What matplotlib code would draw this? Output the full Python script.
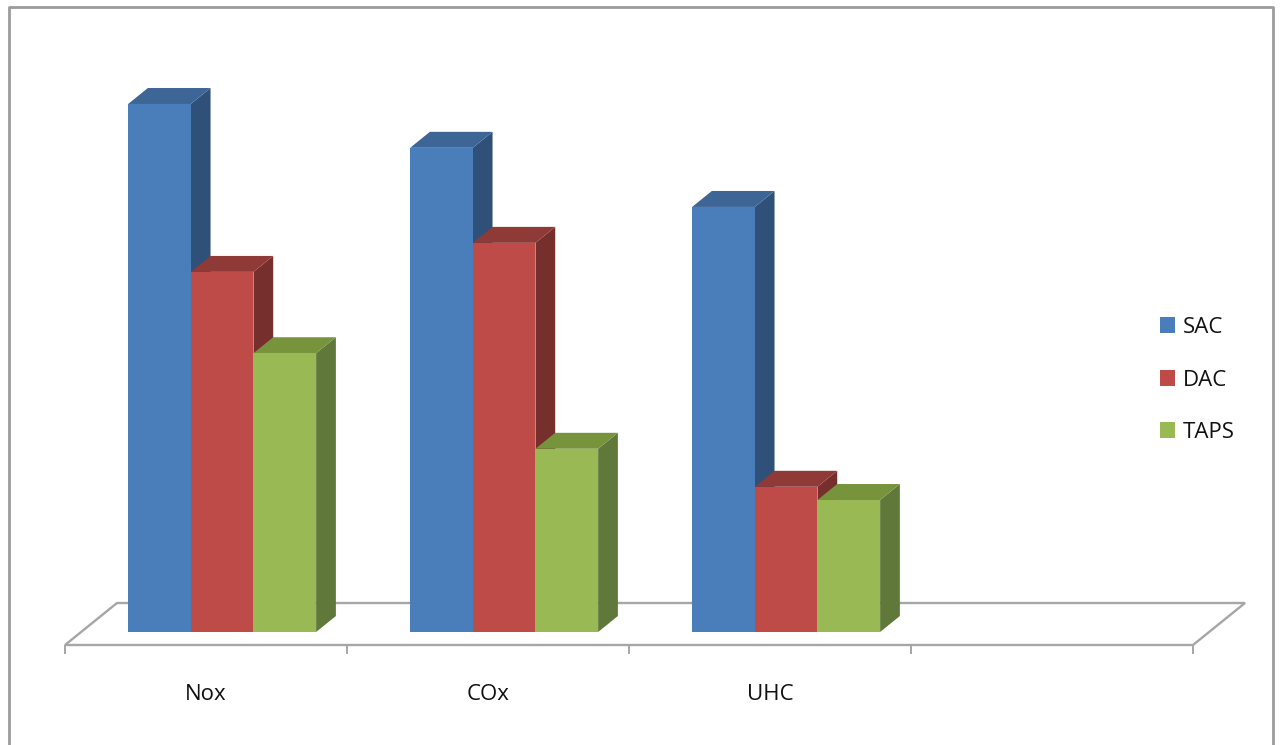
import matplotlib
matplotlib.use("Agg")
import matplotlib.pyplot as plt
from matplotlib.patches import Polygon, Patch
from matplotlib.lines import Line2D

# ---- data -------------------------------------------------------------
categories = ["Nox", "COx", "UHC"]
series = ["SAC", "DAC", "TAPS"]
sac = [100.0, 91.7, 80.5]
dac = [68.2, 73.7, 27.5]
taps = [52.8, 34.7, 25.0]
values = [sac, dac, taps]
n_slots = 4  # category slots along the floor (the last one is empty)

# ---- styling ----------------------------------------------------------
front_colors = ["#4a7ebb", "#be4b48", "#98b954"]
top_colors = ["#3d6596", "#8f3a37", "#77933c"]
side_colors = ["#2e5079", "#772f2d", "#60793a"]
grid_gray = "#a6a6a6"
text_color = "#111111"

plt.rcParams["font.family"] = ["Open Sans", "DejaVu Sans"]

W, H = 1282, 745
fig = plt.figure(figsize=(W / 100, H / 100), dpi=100)
ax = fig.add_axes([0, 0, 1, 1])
ax.axis("off")

# view: one category slot = 282 px, one value unit = 5.28 px,
# front edge of the floor 65 px from the left and 645 px from the top
cat_px, val_px = 282.0, 5.28
ax.set_xlim(-65 / cat_px, (W - 65) / cat_px)
ax.set_ylim(-(H - 645) / val_px, 645 / val_px)

# oblique depth direction (full floor depth) in data units
DX = 52 / cat_px
DY = 42 / val_px


def proj(x, y, d):
    return (x + d * DX, y + d * DY)


# floor
floor = Polygon([proj(0, 0, 0), proj(n_slots, 0, 0),
                 proj(n_slots, 0, 1), proj(0, 0, 1)],
                closed=True, facecolor="white", edgecolor=grid_gray,
                lw=1.7, zorder=1, joinstyle="miter")
ax.add_patch(floor)

# category tick marks below the front edge
for k in range(n_slots + 1):
    ax.plot([k, k], [0, -9 / val_px], color=grid_gray, lw=1.4, zorder=1,
            solid_capstyle="butt")

# bars (gap width 150%)
bw = 1 / 4.5
off = 0.75 * bw
d0, d1 = 0.31, 0.69

for ci in range(len(categories)):
    for si in range(len(series)):
        h = values[si][ci]
        x0 = ci + off + si * bw
        x1 = x0 + bw
        z = 3 + si
        side = Polygon([proj(x1, 0, d0), proj(x1, 0, d1),
                        proj(x1, h, d1), proj(x1, h, d0)],
                       closed=True, facecolor=side_colors[si],
                       edgecolor="none", zorder=z)
        top = Polygon([proj(x0, h, d0), proj(x1, h, d0),
                       proj(x1, h, d1), proj(x0, h, d1)],
                      closed=True, facecolor=top_colors[si],
                      edgecolor="none", zorder=z)
        ax.add_patch(side)
        ax.add_patch(top)
        ax.bar(x0 + d0 * DX, h, width=bw, bottom=d0 * DY, align="edge",
               color=front_colors[si], edgecolor="none", zorder=z + 0.5)

# category labels
for ci, name in enumerate(categories):
    ax.text(ci + 0.5, -49 / val_px, name, ha="center", va="center",
            fontsize=16, color=text_color)

# legend
handles = [Patch(facecolor=c, edgecolor="none") for c in front_colors]
leg = ax.legend(handles, series, loc="center left",
                bbox_to_anchor=(1160 / W, 1 - 380 / H),
                bbox_transform=fig.transFigure, frameon=False,
                fontsize=16, handlelength=0.68, handleheight=0.72,
                handletextpad=0.35, labelspacing=1.42, borderpad=0,
                borderaxespad=0)
for t in leg.get_texts():
    t.set_color(text_color)

# chart area border
fig.add_artist(Line2D([9 / W, 9 / W, 1273 / W, 1273 / W],
                      [0, 1 - 6.5 / H, 1 - 6.5 / H, 0],
                      transform=fig.transFigure, color="#9c9c9c", lw=2))

fig.savefig("out.png", dpi=100)
